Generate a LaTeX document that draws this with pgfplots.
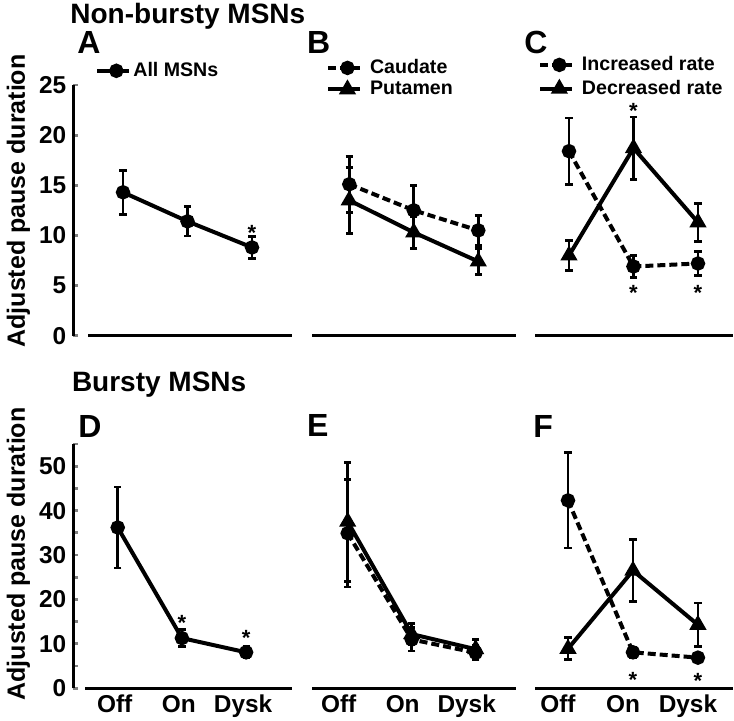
\documentclass[border=0pt]{standalone}
\usepackage{fontspec}
\setmainfont{Liberation Sans}
\usepackage{pgfplots}
\pgfplotsset{compat=1.18}

\tikzset{
  xline/.style={line width=1.6pt},
  star/.style={font=\fontsize{11}{11}\selectfont\bfseries, inner sep=0pt, yshift=-2.3pt},
}
\pgfplotsset{
  panel/.style={
    scale only axis, clip=false,
    axis x line*=bottom, x axis line style={draw=none},
    xtick={0,1,2}, xticklabels={}, major x tick style={draw=none},
    ymin=0, tick align=inside,
    /pgf/number format/assume math mode=true,
    yticklabel style={font=\fontsize{12.2}{12}\selectfont\bfseries},
    xticklabel style={font=\fontsize{12.2}{12}\selectfont\bfseries, anchor=base, yshift=-12.3pt},
    legend style={draw=none, fill=none, inner sep=0pt, anchor=north west,
      font=\fontsize{9.8}{10}\selectfont\bfseries, nodes={inner sep=0.5pt}},
    legend cell align=left,
    legend image code/.code={\draw[mark repeat=2, mark phase=2, ##1] plot coordinates {(0pt,0pt) (9.5pt,0pt) (16pt,0pt)};},
  },
  yaxis/.style={axis y line*=left, y axis line style={line width=1.6pt},
    ytick style={line width=1.4pt}, major tick length=2.5pt, minor tick length=2.5pt},
  noy/.style={axis y line=none},
  ser/.style={black, line width=2pt, solid,
    error bars/y dir=both, error bars/y explicit,
    error bars/error bar style={line width=1.4pt, solid},
    error bars/error mark options={rotate=90, mark size=1.8pt, line width=1.4pt, solid}},
  circ/.style={ser, mark=*, mark size=2.6pt, mark options={solid}},
  dcirc/.style={circ, dash pattern=on 4pt off 2pt},
  tri/.style={ser, mark=triangle*, mark size=3pt, mark options={solid}},
}

\begin{document}
\begin{tikzpicture}
\useasboundingbox (0,0) rectangle (367pt,360.5pt);

% titles, letters, y labels
\node[anchor=base west, inner sep=0pt, font=\fontsize{14}{14}\selectfont\bfseries] at (35pt,348.8pt) {Non-bursty MSNs};
\node[anchor=base west, inner sep=0pt, font=\fontsize{14}{14}\selectfont\bfseries] at (35.8pt,164.5pt) {Bursty MSNs};
\node[anchor=base west, inner sep=0pt, font=\fontsize{16}{16}\selectfont\bfseries] at (38.5pt,333.5pt) {A};
\node[anchor=base west, inner sep=0pt, font=\fontsize{16}{16}\selectfont\bfseries] at (153.3pt,333.8pt) {B};
\node[anchor=base west, inner sep=0pt, font=\fontsize{16}{16}\selectfont\bfseries] at (262pt,333.8pt) {C};
\node[anchor=base west, inner sep=0pt, font=\fontsize{16}{16}\selectfont\bfseries] at (39pt,141.8pt) {D};
\node[anchor=base west, inner sep=0pt, font=\fontsize{16}{16}\selectfont\bfseries] at (153.3pt,142pt) {E};
\node[anchor=base west, inner sep=0pt, font=\fontsize{16}{16}\selectfont\bfseries] at (266.5pt,141.8pt) {F};
\node[rotate=90, anchor=base, font=\fontsize{12.5}{13}\selectfont\bfseries] at (12.5pt,260pt) {Adjusted pause duration};
\node[rotate=90, anchor=base, font=\fontsize{12.5}{13}\selectfont\bfseries] at (12.5pt,83.5pt) {Adjusted pause duration};

% A
\begin{axis}[panel, yaxis, at={(36.65pt,192.65pt)}, anchor=south west,
  width=109.35pt, height=125.35pt, xmin=-0.771, xmax=2.62, ymax=25, ytick={0,5,...,25},
  legend style={at={(0.099,1.0965)}, column sep=0.5pt}]
\addplot[circ] coordinates {(0,14.3) +- (0,2.2) (1,11.4) +- (0,1.45) (2,8.8) +- (0,1.1)};
\legend{All MSNs}
\draw[xline] (axis cs:-0.54,0) -- (axis cs:2.62,0);
\node[star] at (axis cs:2,10.74) {*};
\end{axis}

% B
\begin{axis}[panel, noy, at={(156pt,192.65pt)}, anchor=south west,
  width=102pt, height=125.35pt, xmin=-0.578, xmax=2.585, ymax=25,
  legend style={at={(0.069,1.108)}, column sep=3.3pt, row sep=1.3pt}]
\addplot[dcirc] coordinates {(0,15.1) +- (0,2.8) (1,12.5) +- (0,2.5) (2,10.5) +- (0,1.5)};
\addplot[tri] coordinates {(0,13.5) +- (0,3.3) (1,10.3) +- (0,1.6) (2,7.4) +- (0,1.3)};
\legend{Caudate, Putamen}
\draw[xline] (axis cs:-0.578,0) -- (axis cs:2.585,0);
\end{axis}

% C
\begin{axis}[panel, noy, at={(267.5pt,192.65pt)}, anchor=south west,
  width=99pt, height=125.35pt, xmin=-0.527, xmax=2.543, ymax=25,
  legend style={at={(0.015,1.12)}, column sep=3.3pt, row sep=2.3pt}]
\addplot[dcirc] coordinates {(0,18.4) +- (0,3.3) (1,6.9) +- (0,1.1) (2,7.2) +- (0,1.2)};
\addplot[tri] coordinates {(0,8.0) +- (0,1.5) (1,18.7) +- (0,3.1) (2,11.3) +- (0,1.9)};
\legend{Increased rate, Decreased rate}
\draw[xline] (axis cs:-0.527,0) -- (axis cs:2.543,0);
\node[star] at (axis cs:1,22.9) {*};
\node[star] at (axis cs:1,4.74) {*};
\node[star] at (axis cs:2,4.74) {*};
\end{axis}

% D
\begin{axis}[panel, yaxis, at={(36.65pt,16.35pt)}, anchor=south west,
  width=109.35pt, height=122.15pt, xmin=-0.692, xmax=2.715, ymax=55,
  ytick={0,10,...,50}, minor ytick={5,15,...,55},
  xticklabels={Off,On,Dysk}, xticklabel style={xshift=-1.5pt}]
\addplot[circ] coordinates {(0,36.2) +- (0,9.1) (1,11.3) +- (0,1.9) (2,8.1) +- (0,1.3)};
\draw[xline] (axis cs:-0.509,0) -- (axis cs:2.715,0);
\node[star] at (axis cs:1,15.8) {*};
\node[star] at (axis cs:2,12.4) {*};
\end{axis}

% E
\begin{axis}[panel, noy, at={(156pt,16.35pt)}, anchor=south west,
  width=102pt, height=122.15pt, xmin=-0.558, xmax=2.63, ymax=55,
  xticklabels={Off,On,Dysk}, xticklabel style={xshift=-4.5pt}]
\addplot[dcirc] coordinates {(0,34.9) +- (0,12.1) (1,11.0) +- (0,2.6) (2,8.0) +- (0,1.6)};
\addplot[tri] coordinates {(0,37.5) +- (0,13.4) (1,12.2) +- (0,2.3) (2,8.8) +- (0,2.2)};
\draw[xline] (axis cs:-0.558,0) -- (axis cs:2.63,0);
\end{axis}

% F
\begin{axis}[panel, noy, at={(267.5pt,16.35pt)}, anchor=south west,
  width=99pt, height=122.15pt, xmin=-0.508, xmax=2.54, ymax=55,
  xticklabels={Off,On,Dysk}, xticklabel style={xshift=-5pt}]
\addplot[dcirc] coordinates {(0,42.3) +- (0,10.7) (1,8.1) +- (0,1.1) (2,6.9) +- (0,1.0)};
\addplot[tri] coordinates {(0,8.9) +- (0,2.5) (1,26.5) +- (0,7.0) (2,14.3) +- (0,4.9)};
\draw[xline] (axis cs:-0.508,0) -- (axis cs:2.54,0);
\node[star] at (axis cs:1,3.0) {*};
\node[star] at (axis cs:2,2.7) {*};
\end{axis}
\end{tikzpicture}
\end{document}
